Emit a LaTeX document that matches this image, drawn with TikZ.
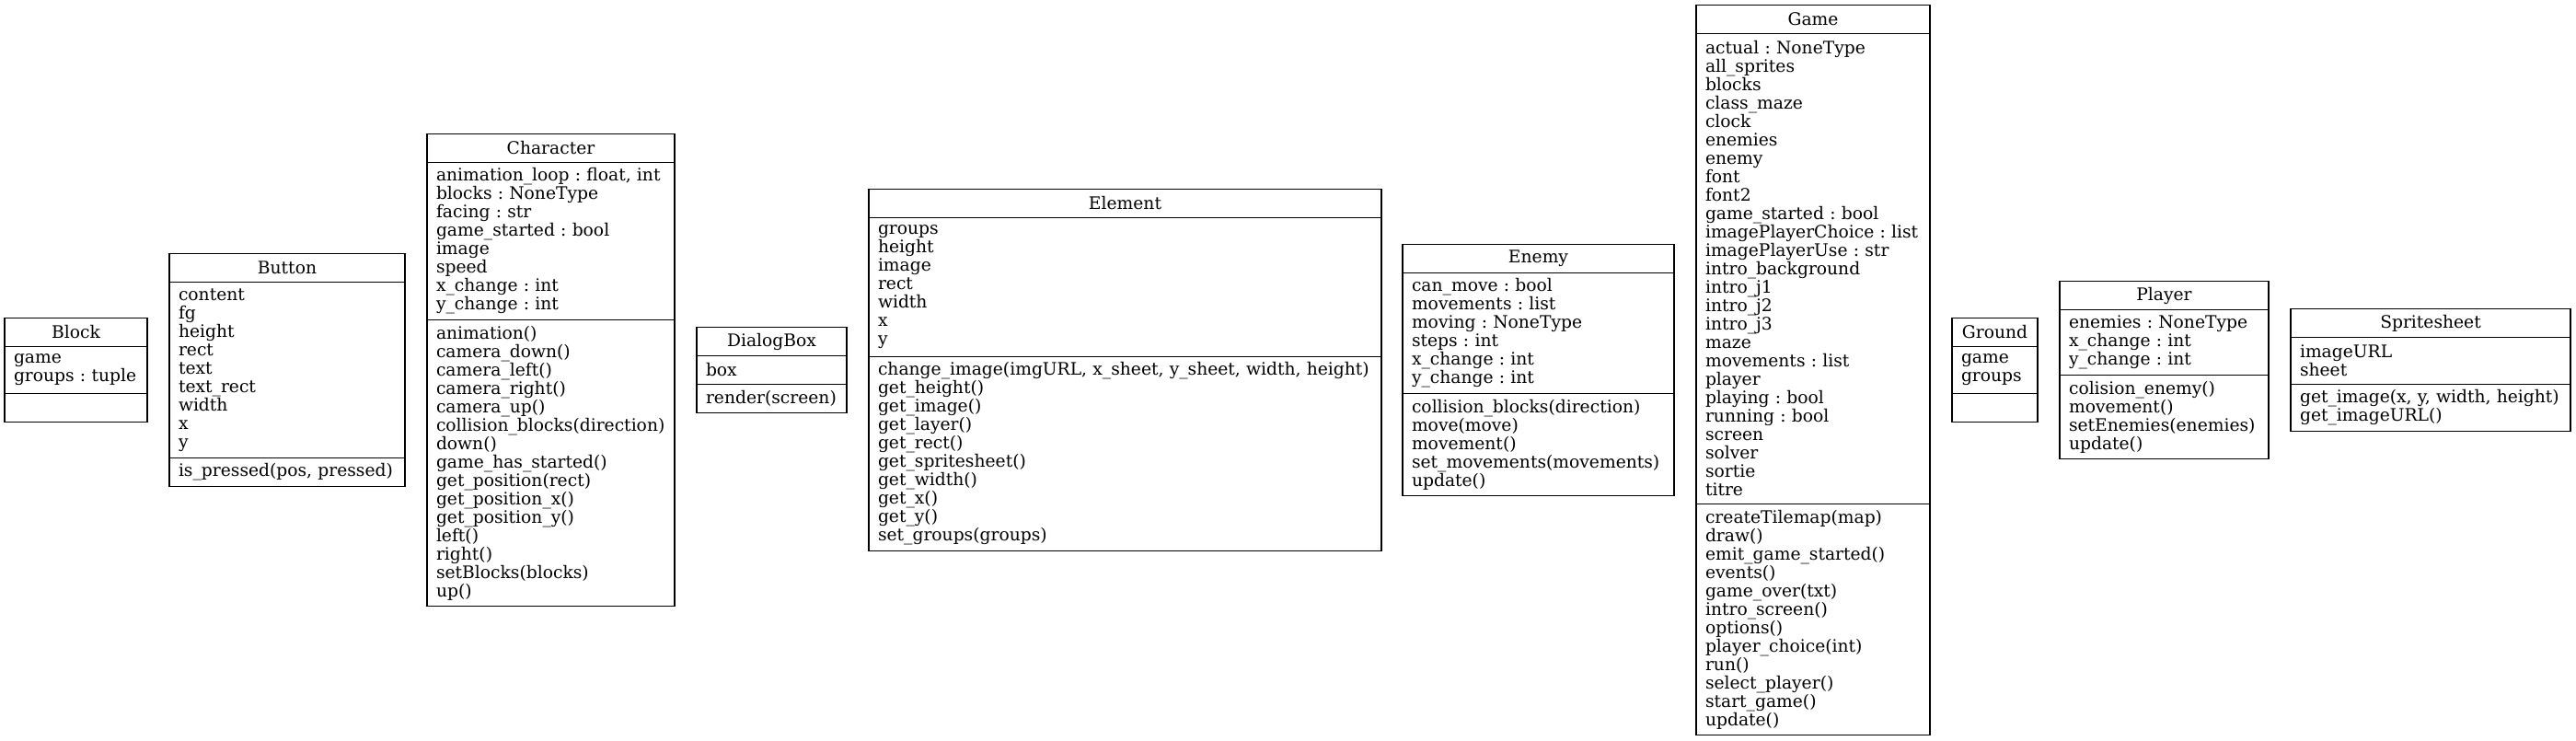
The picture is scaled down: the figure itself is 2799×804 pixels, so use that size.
\documentclass[tikz,border=0pt]{standalone}
\usepackage{fontspec}
\setmainfont{DejaVu Serif}
\usetikzlibrary{positioning}
\frenchspacing
\begin{document}
\begin{tikzpicture}[x=1pt, y=-1pt,
  font=\fontsize{18.7}{20}\selectfont,
  classtitle/.style={draw, line width=1.4, outer sep=0, inner sep=0,
    minimum height=31, anchor=north west},
  classpart/.style={draw, line width=1.4, outer sep=0, inner xsep=10,
    inner ysep=0, align=left}]
\useasboundingbox (0,0) rectangle (2799,804);
% Block
\node[classtitle, minimum width=155] (blockT) at (5,345.5) {Block};
\node[classpart, text width=135, minimum height=51, below=0pt of blockT] (blockA)
  {game\\groups : tuple};
\node[classpart, text width=135, minimum height=31, below=0pt of blockA] (blockM) {};
% Button
\node[classtitle, minimum width=256] (buttonT) at (184,275.5) {Button};
\node[classpart, text width=236, minimum height=191, below=0pt of buttonT] (buttonA)
  {content\\fg\\height\\rect\\text\\text\_rect\\width\\x\\y};
\node[classpart, text width=236, minimum height=31, below=0pt of buttonA] (buttonM)
  {is\_pressed(pos, pressed)};
% Character
\node[classtitle, minimum width=269] (charT) at (464,145.5) {Character};
\node[classpart, text width=249, minimum height=171, below=0pt of charT] (charA)
  {animation\_loop : float, int\\blocks : NoneType\\facing : str\\game\_started : bool\\
   image\\speed\\x\_change : int\\y\_change : int};
\node[classpart, text width=249, minimum height=311, below=0pt of charA] (charM)
  {animation()\\camera\_down()\\camera\_left()\\camera\_right()\\camera\_up()\\
   collision\_blocks(direction)\\down()\\game\_has\_started()\\get\_position(rect)\\
   get\_position\_x()\\get\_position\_y()\\left()\\right()\\setBlocks(blocks)\\up()};
% DialogBox
\node[classtitle, minimum width=163] (dialogT) at (757,355.5) {DialogBox};
\node[classpart, text width=143, minimum height=31, below=0pt of dialogT] (dialogA) {box};
\node[classpart, text width=143, minimum height=31, below=0pt of dialogA] (dialogM)
  {render(screen)};
% Element
\node[classtitle, minimum width=557] (elemT) at (944,205.5) {Element};
\node[classpart, text width=537, minimum height=151, below=0pt of elemT] (elemA)
  {groups\\height\\image\\rect\\width\\x\\y};
\node[classpart, text width=537, minimum height=211, below=0pt of elemA] (elemM)
  {change\_image(imgURL, x\_sheet, y\_sheet, width, height)\\get\_height()\\
   get\_image()\\get\_layer()\\get\_rect()\\get\_spritesheet()\\get\_width()\\
   get\_x()\\get\_y()\\set\_groups(groups)};
% Enemy
\node[classtitle, minimum width=295] (enemyT) at (1524,265.5) {Enemy};
\node[classpart, text width=275, minimum height=131, below=0pt of enemyT] (enemyA)
  {can\_move : bool\\movements : list\\moving : NoneType\\steps : int\\
   x\_change : int\\y\_change : int};
\node[classpart, text width=275, minimum height=111, below=0pt of enemyA] (enemyM)
  {collision\_blocks(direction)\\move(move)\\movement()\\
   set\_movements(movements)\\update()};
% Game
\node[classtitle, minimum width=254] (gameT) at (1843,5.5) {Game};
\node[classpart, text width=234, minimum height=511, below=0pt of gameT] (gameA)
  {actual : NoneType\\all\_sprites\\blocks\\class\_maze\\clock\\enemies\\enemy\\
   font\\font2\\game\_started : bool\\imagePlayerChoice : list\\
   imagePlayerUse : str\\intro\_background\\intro\_j1\\intro\_j2\\intro\_j3\\
   maze\\movements : list\\player\\playing : bool\\running : bool\\screen\\
   solver\\sortie\\titre};
\node[classpart, text width=234, minimum height=251, below=0pt of gameA] (gameM)
  {createTilemap(map)\\draw()\\emit\_game\_started()\\events()\\game\_over(txt)\\
   intro\_screen()\\options()\\player\_choice(int)\\run()\\select\_player()\\
   start\_game()\\update()};
% Ground
\node[classtitle, minimum width=93] (groundT) at (2121,345.5) {Ground};
\node[classpart, text width=73, minimum height=51, below=0pt of groundT] (groundA)
  {game\\groups};
\node[classpart, text width=73, minimum height=31, below=0pt of groundA] (groundM) {};
% Player
\node[classtitle, minimum width=227] (playerT) at (2238,305.5) {Player};
\node[classpart, text width=207, minimum height=71, below=0pt of playerT] (playerA)
  {enemies : NoneType\\x\_change : int\\y\_change : int};
\node[classpart, text width=207, minimum height=91, below=0pt of playerA] (playerM)
  {colision\_enemy()\\movement()\\setEnemies(enemies)\\update()};
% Spritesheet
\node[classtitle, minimum width=304] (spriteT) at (2489,335.5) {Spritesheet};
\node[classpart, text width=284, minimum height=51, below=0pt of spriteT] (spriteA)
  {imageURL\\sheet};
\node[classpart, text width=284, minimum height=51, below=0pt of spriteA] (spriteM)
  {get\_image(x, y, width, height)\\get\_imageURL()};
\end{tikzpicture}
\end{document}
